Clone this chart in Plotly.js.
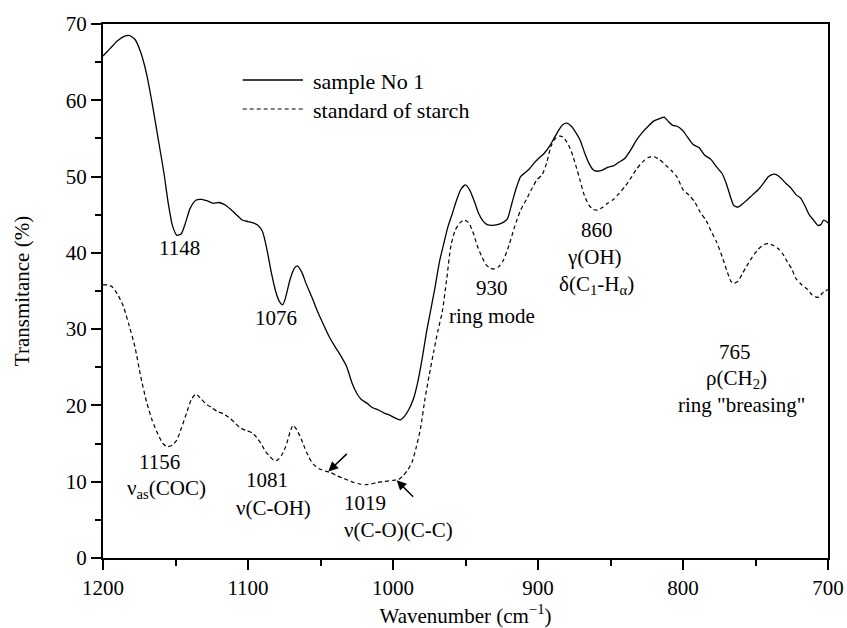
<!DOCTYPE html>
<html>
<head>
<meta charset="utf-8">
<script src="https://cdn.plot.ly/plotly-3.0.1.min.js"></script>
<style>html,body{margin:0;padding:0;background:#fff;}#chart{width:847px;height:628px;}</style>
</head>
<body>
<div id="chart"></div>
<script>
// Wavenumber (cm-1) and transmittance (%)
var sampleWn = [1200,1195,1190,1185,1182,1178,1174,1170,1166,1162,1158,1155,1152,1149,1146,1143,1140,1136,1132,1128,1124,1120,1116,1112,1108,1104,1100,1096,1093,1090,1087,1084,1081,1078,1076,1074,1071,1068,1066,1063,1060,1056,1052,1048,1044,1040,1036,1032,1028,1025,1022,1018,1014,1010,1006,1002,998,995,992,989,986,983,980,977,974,971,968,965,962,959,956,953,950,947,944,941,938,935,932,928,924,921,918,915,912,909,906,903,900,896,892,889,886,883,880,877,874,871,868,865,862,859,856,852,848,844,840,836,832,828,824,820,816,813,810,807,804,800,797,793,789,785,781,777,773,770,767,765,762,759,756,752,748,745,741,738,735,732,729,726,722,719,716,713,710,707,705,703,701,700];
var sampleT = [65.8,66.8,67.8,68.4,68.5,68.0,66.3,63.5,59.5,55.0,50.5,46.5,43.5,42.3,42.5,44.0,45.8,46.9,47.0,46.8,46.5,46.6,46.3,45.7,45.0,44.3,44.1,43.9,43.6,42.8,40.5,37.5,35.0,33.5,33.2,34.2,36.5,38.0,38.3,37.5,36.0,34.2,32.3,30.6,29.0,27.7,26.5,25.1,22.8,21.6,20.8,20.3,19.7,19.4,19.0,18.7,18.3,18.1,18.6,19.5,20.8,23.0,26.0,29.5,32.5,35.5,38.8,41.2,43.5,45.2,47.0,48.4,48.9,48.2,46.8,45.2,44.2,43.7,43.6,43.7,44.0,44.5,46.5,48.5,50.0,50.5,51.0,51.7,52.3,53.0,54.0,55.0,56.0,56.8,57.0,56.6,55.8,54.8,53.2,51.8,50.9,50.7,50.8,51.2,51.4,51.9,52.4,53.5,54.8,55.8,56.6,57.3,57.6,57.8,57.2,56.7,56.6,56.0,55.2,54.2,53.8,52.8,52.3,51.3,50.4,49.0,47.2,46.2,46.0,46.4,46.9,47.6,48.3,49.0,50.0,50.3,50.2,49.7,49.1,48.6,47.6,47.2,46.2,45.0,44.3,43.6,43.7,44.3,44.1,43.9];

var starchWn = [1200,1197,1194,1190,1186,1182,1178,1174,1170,1166,1162,1159,1156,1152,1149,1146,1142,1139,1136,1133,1129,1125,1121,1117,1113,1109,1105,1101,1097,1094,1091,1088,1085,1082,1080,1077,1074,1071,1069,1067,1064,1061,1058,1055,1051,1047,1043,1039,1035,1031,1027,1023,1019,1015,1011,1007,1003,999,996,993,990,987,984,981,978,975,972,969,966,963,960,957,954,951,948,945,942,939,936,933,930,927,924,920,916,912,908,904,901,897,894,891,888,885,883,880,877,874,871,868,865,862,859,856,852,848,844,840,836,832,828,824,820,816,812,808,804,800,796,792,788,784,780,777,773,770,767,765,762,759,756,752,748,744,741,738,734,731,728,725,722,718,714,711,708,706,704,702,700];
var starchT = [35.8,35.8,35.6,34.6,33.0,30.5,27.7,23.8,20.5,18.0,16.2,15.1,14.6,14.8,15.5,17.0,19.2,20.8,21.5,21.0,20.2,19.7,19.2,18.9,18.4,17.7,17.0,16.7,16.4,15.8,15.0,14.0,13.3,12.8,12.8,13.4,14.6,16.5,17.4,17.0,15.9,14.5,13.2,12.3,11.7,11.4,11.2,10.8,10.5,10.2,9.9,9.7,9.6,9.7,9.9,10.0,10.1,10.2,10.3,10.8,11.5,12.5,14.5,17.0,20.8,24.0,27.0,29.8,32.3,36.5,41.0,43.0,43.9,44.3,44.0,42.8,41.0,39.6,38.5,38.0,37.9,38.2,39.0,41.0,43.5,45.6,47.0,48.5,49.5,50.3,51.8,54.0,55.0,55.3,55.2,54.5,53.3,51.5,49.5,47.5,46.3,45.7,45.6,45.9,46.5,47.0,47.8,48.7,49.8,51.0,51.9,52.5,52.6,52.2,51.5,50.8,49.9,48.3,47.6,46.7,45.3,44.2,42.6,41.5,39.5,37.8,36.3,36.0,36.3,37.3,38.3,39.5,40.5,41.1,41.2,41.0,40.5,39.8,38.8,37.9,36.6,35.8,35.2,34.5,34.2,34.2,34.7,35.0,35.2];

var seriesNames = ['sample No 1', 'standard of starch'];
var xTickVals = [1200, 1100, 1000, 900, 800, 700];
var yTickVals = [0, 10, 20, 30, 40, 50, 60, 70];

// Band labels: text, wavenumber, transmittance
var bandText = ['1148', '1076', '930', 'ring mode', '860', 'γ(OH)', 'δ(C<sub>1</sub>-H<sub>α</sub>)',
  '765', 'ρ(CH<sub>2</sub>)', 'ring "breasing"', '1156', 'ν<sub>as</sub>(COC)', '1081', 'ν(C-OH)', '1019', 'ν(C-O)(C-C)'];
var bandWn = [1147.2, 1081.0, 931.9, 931.7, 859.5, 860.7, 859.9, 764.1, 762.8, 760.0, 1161.2, 1156.3, 1087.1, 1082.5, 1035.5, 1035.5];
var bandT = [40.6, 31.4, 35.35, 31.7, 43.0, 39.5, 35.8, 27.0, 23.4, 20.0, 12.6, 9.0, 10.2, 6.5, 7.2, 3.7];
var bandAlign = ['center','center','center','center','center','center','center','center','center','center','center','center','center','center','left','left'];

// Arrow heads pointing at the 1019 band
var arrowWn = [1044.6, 997.5];
var arrowT = [11.35, 10.2];

var font = 'Liberation Serif, Times New Roman, serif';

var traces = [
  {x: sampleWn, y: sampleT, name: seriesNames[0], type: 'scatter', mode: 'lines',
   line: {color: '#000', width: 1.3, shape: 'spline', smoothing: 0.6}, showlegend: false},
  {x: starchWn, y: starchT, name: seriesNames[1], type: 'scatter', mode: 'lines',
   line: {color: '#000', width: 1.2, dash: '4px,3px', shape: 'spline', smoothing: 0.6}, showlegend: false}
];

var annotations = [];
for (var i = 0; i < bandText.length; i++) {
  annotations.push({x: bandWn[i], y: bandT[i], xref: 'x', yref: 'y', text: bandText[i],
    showarrow: false, xanchor: bandAlign[i], yanchor: 'middle', align: bandAlign[i],
    font: {family: font, size: 21, color: '#000'}});
}
var arrowOff = [[20, -19], [18, 18]];
for (var j = 0; j < arrowWn.length; j++) {
  annotations.push({x: arrowWn[j], y: arrowT[j], xref: 'x', yref: 'y', text: '',
    showarrow: true, ax: arrowOff[j][0], ay: arrowOff[j][1], arrowhead: 2, arrowsize: 1.3,
    arrowwidth: 1.5, arrowcolor: '#000', standoff: 0, startstandoff: 0});
}
// legend texts
annotations.push({x: 0.2869, y: 0.892, xref: 'paper', yref: 'paper', text: seriesNames[0], showarrow: false,
  xanchor: 'left', yanchor: 'middle', font: {family: font, size: 22, color: '#000'}});
annotations.push({x: 0.2869, y: 0.838, xref: 'paper', yref: 'paper', text: seriesNames[1], showarrow: false,
  xanchor: 'left', yanchor: 'middle', font: {family: font, size: 22, color: '#000'}});

var shapes = [
  {type: 'line', xref: 'paper', yref: 'paper', x0: 0.1927, x1: 0.2759, y0: 0.8951, y1: 0.8951,
   line: {color: '#000', width: 1.3}},
  {type: 'line', xref: 'paper', yref: 'paper', x0: 0.1927, x1: 0.2759, y0: 0.8408, y1: 0.8408,
   line: {color: '#000', width: 1.2, dash: '4px,3px'}}
];

var layout = {
  width: 847, height: 628,
  margin: {l: 103, r: 19, t: 24, b: 70},
  paper_bgcolor: '#fff', plot_bgcolor: '#fff',
  font: {family: font, size: 21, color: '#000'},
  showlegend: false,
  xaxis: {
    range: [1200, 700], tickvals: xTickVals, ticks: 'outside', ticklen: 10, tickwidth: 2,
    tickcolor: '#000', showline: true, linewidth: 2, linecolor: '#000', mirror: true,
    showgrid: false, zeroline: false, tickfont: {family: font, size: 21, color: '#000'},
    minor: {dtick: 50, ticks: 'outside', ticklen: 6, tickwidth: 2, tickcolor: '#000', showgrid: false},
    title: {text: 'Wavenumber (cm<sup>−1</sup>)', font: {family: font, size: 21, color: '#000'}, standoff: 13}
  },
  yaxis: {
    range: [0, 70], tickvals: yTickVals, ticks: 'outside', ticklen: 10, tickwidth: 2,
    tickcolor: '#000', showline: true, linewidth: 2, linecolor: '#000', mirror: true,
    showgrid: false, zeroline: false, tickfont: {family: font, size: 21, color: '#000'},
    minor: {dtick: 5, ticks: 'outside', ticklen: 6, tickwidth: 2, tickcolor: '#000', showgrid: false},
    title: {text: 'Transmitance (%)', font: {family: font, size: 21, color: '#000'}, standoff: 30}
  },
  annotations: annotations,
  shapes: shapes
};

Plotly.newPlot('chart', traces, layout, {displayModeBar: false, staticPlot: true});
</script>
</body>
</html>
